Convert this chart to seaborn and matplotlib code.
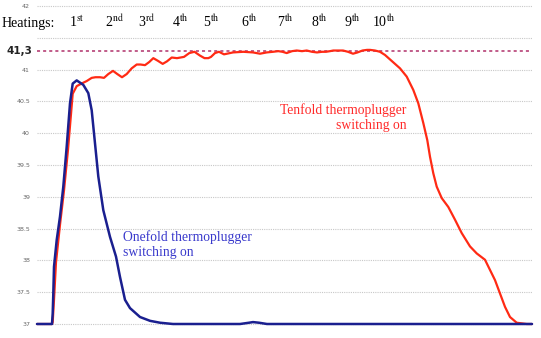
import numpy as np
import pandas as pd
import seaborn as sns
import matplotlib
matplotlib.use("Agg")
import matplotlib.pyplot as plt
import matplotlib.transforms as mtransforms

sns.set_theme(style="white")
plt.rcParams["mathtext.fontset"] = "stix"

# ---- data (time in arbitrary units, temperature in deg C) ----
onefold_time = [0, 15, 15.7, 16.3, 17, 19.7, 23, 26.3, 29.7, 33, 35.7, 39.7, 46.3,
                51.3, 54.7, 58, 61.3, 66.3, 73, 79, 83, 88, 93, 103, 113, 123,
                136, 170, 203, 212, 216, 222, 230, 495]
onefold_temp = [37.0, 37.0, 37.17, 37.48, 37.9, 38.32, 38.69, 39.16, 39.79, 40.47,
                40.78, 40.83, 40.76, 40.63, 40.36, 39.84, 39.32, 38.79, 38.37, 38.06,
                37.74, 37.38, 37.25, 37.11, 37.05, 37.02, 37.0, 37.0, 37.0, 37.02,
                37.03, 37.02, 37.0, 37.0]

tenfold_time = [0, 15, 15.7, 17, 19, 23, 27, 31, 34, 35.7, 39.7, 44.5, 49.7, 54.7,
                58.5, 63, 67, 71.3, 76, 80.3, 85, 89.7, 94.7, 99.7, 103.5, 108, 112.3,
                116.3, 120.7, 125.7, 130, 134.7, 140, 147, 152.3, 157.5, 163, 167.5,
                171.3, 174, 178, 182, 187, 196, 206.3, 216, 223, 229.7, 236, 241.3,
                245.5, 249.7, 255, 259.7, 265, 269.7, 275, 280, 285, 289, 293, 296.3,
                301, 306, 311, 316, 320.5, 325.5, 330, 333,
                338, 343, 348, 353, 358, 363, 369.7, 376.3, 381.3, 386.3, 390.3,
                393, 396.3, 399.7, 404.7, 411.3, 418, 424.7, 433, 439.7, 448, 453,
                458, 463, 468, 473, 479.7, 489.7, 495]
tenfold_temp = [37.0, 37.0, 37.03, 37.38, 37.97, 38.56, 39.1, 39.74, 40.3, 40.62,
                40.74, 40.78, 40.82, 40.87, 40.88, 40.88, 40.87, 40.93, 40.98, 40.93,
                40.88, 40.93, 41.02, 41.08, 41.08, 41.07, 41.12, 41.18, 41.14, 41.09,
                41.13, 41.19, 41.18, 41.2, 41.26, 41.28, 41.22, 41.18, 41.18, 41.2,
                41.26, 41.28, 41.24, 41.27, 41.28, 41.27, 41.25, 41.27, 41.28, 41.29,
                41.28, 41.26, 41.29, 41.3, 41.29, 41.3, 41.28, 41.27, 41.28, 41.28,
                41.29, 41.3, 41.3, 41.3, 41.28, 41.25, 41.27, 41.3, 41.31, 41.31,
                41.3, 41.28, 41.23, 41.16, 41.09, 41.02, 40.89, 40.68, 40.47, 40.16,
                39.89, 39.63, 39.37, 39.16, 38.98, 38.84, 38.64, 38.43, 38.22, 38.11,
                38.01, 37.85, 37.69, 37.48, 37.27, 37.11, 37.02, 37.0, 37.0]

heating_labels = ["1", "2", "3", "4", "5", "6", "7", "8", "9", "10"]
heating_suffix = ["st", "nd", "rd", "th", "th", "th", "th", "th", "th", "th"]
heating_pos = [32, 68, 101, 135, 166, 204, 240, 274, 307, 335]

ytick_vals = [37, 37.5, 38, 38.5, 39, 39.5, 40, 40.5, 41, 42]
ytick_text = ["37", "37.5", "38", "38.5", "39", "39.5", "40", "40.5", "41", "42"]
grid_levels = [37, 37.5, 38, 38.5, 39, 39.5, 40, 40.5, 41, 41.5, 42]
max_level = 41.3

df_one = pd.DataFrame({"t": onefold_time, "T": onefold_temp})
df_ten = pd.DataFrame({"t": tenfold_time, "T": tenfold_temp})

W, H = 541, 338
fig = plt.figure(figsize=(W / 100, H / 100), dpi=100)
ax = fig.add_axes([37 / W, (H - 324) / H, 495 / W, 318 / H])
ax.set_xlim(0, 495)
ax.set_ylim(37, 42)

for g in grid_levels:
    ax.axhline(g, color="#c8c8c8", lw=0.8, ls=(0, (1, 1)), zorder=0)
ax.axhline(max_level, color="#b0306a", lw=1.1, ls=(0, (2, 2)), zorder=1)

sns.lineplot(data=df_ten, x="t", y="T", ax=ax, color="#ff2a14", lw=1.6,
             sort=False, estimator=None, zorder=3)
sns.lineplot(data=df_one, x="t", y="T", ax=ax, color="#1a1f8f", lw=1.8,
             sort=False, estimator=None, zorder=4)
for l in ax.lines:
    l.set_clip_on(False)
    l.set_solid_joinstyle("round")

ax.set_xticks([])
ax.set_yticks(ytick_vals)
ax.set_yticklabels(ytick_text, fontsize=4.5, color="#666666")
ax.tick_params(axis="y", length=0, pad=5)
ax.set_xlabel("")
ax.set_ylabel("")
for s in ax.spines.values():
    s.set_visible(False)

# bold 41,3 label
trans = mtransforms.blended_transform_factory(fig.transFigure, ax.transData)
ax.text(32 / W, max_level, "41,3", transform=trans, ha="right", va="center",
        fontsize=7.5, fontweight="bold", color="#222222", family="DejaVu Sans")

serif = "Liberation Serif"
ax.text(2 / W, 41.67, "Heatings:", transform=trans, ha="left", va="baseline",
        fontsize=10, family=serif, color="black")
for lab, suf, xp in zip(heating_labels, heating_suffix, heating_pos):
    ax.text(xp, 41.67, lab + r"$^{\mathrm{" + suf + "}}$", ha="left", va="baseline",
            fontsize=10, family=serif, color="black")

ax.text(369.7, 40.25, "Tenfold thermoplugger\nswitching on", ha="right", va="center",
        fontsize=9.8, family=serif, color="#ff2a2a", linespacing=1.2)
ax.text(86, 38.25, "Onefold thermoplugger\nswitching on", ha="left", va="center",
        fontsize=9.8, family=serif, color="#3a3acc", linespacing=1.2)

fig.savefig("out.png", dpi=100)
